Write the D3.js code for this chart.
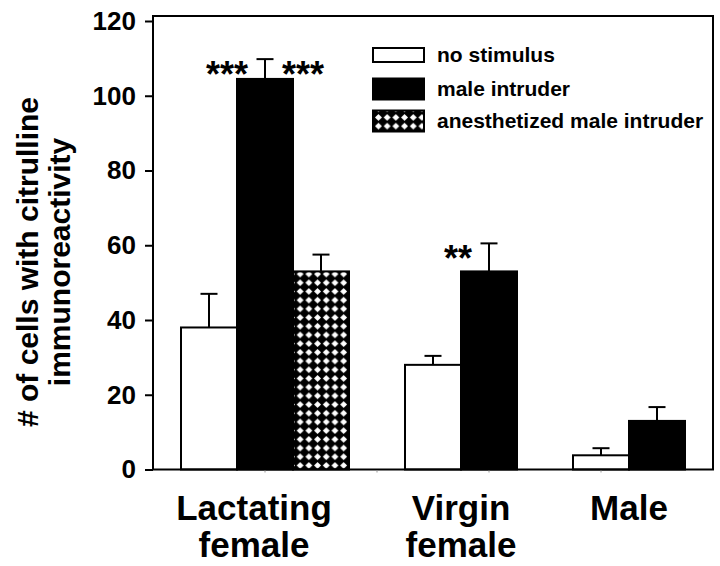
<!DOCTYPE html>
<html><head><meta charset="utf-8">
<script src="https://cdn.jsdelivr.net/npm/d3@7"></script>
<style>body{margin:0;background:#fff}text{font-family:"Liberation Sans",Arial,Helvetica,sans-serif}</style>
</head><body><svg id="c" width="720" height="566"></svg>
<script>
// ---- data ----
const groups = ["Lactating female", "Virgin female", "Male"];
const groupLines = [["Lactating", "female"], ["Virgin", "female"], ["Male"]];
const conditions = ["no stimulus", "male intruder", "anesthetized male intruder"];
const meanNoStim = [38, 28, 3.8];
const meanMaleIntruder = [104.5, 53, 13];
const meanAnesthetized = [53, null, null];
const semNoStim = [9, 2.4, 1.9];
const semMaleIntruder = [5.3, 7.5, 3.7];
const semAnesthetized = [4.5, null, null];
const sigMaleIntruder = ["***", "**", ""];   // stars shown beside male-intruder bars
const sigBothSides = [true, false, false];
const yTicks = [0, 20, 40, 60, 80, 100, 120];

// ---- build bar table ----
const means = [meanNoStim, meanMaleIntruder, meanAnesthetized];
const sems = [semNoStim, semMaleIntruder, semAnesthetized];
const bars = [];
const slots = [];
groups.forEach((g, gi) => {
  conditions.forEach((c, ci) => {
    const v = means[ci][gi];
    if (v == null) return;
    const key = gi + "|" + ci;
    slots.push(key);
    bars.push({g: gi, c: ci, key, v, e: sems[ci][gi]});
  });
  if (gi < groups.length - 1) slots.push("gap" + gi);
});

const svg = d3.select("#c");
const plot = {left: 153, right: 713, top: 16, bottom: 469.5};

const x = d3.scaleBand().domain(slots).range([plot.left, plot.right]).paddingInner(0).paddingOuter(0.5);
const y = d3.scaleLinear().domain([0, 120]).range([plot.bottom, 21]);

// hatch pattern (diamond checkerboard)
const P = 8.7;
const defs = svg.append("defs");
const pat = defs.append("pattern").attr("id", "hatch").attr("patternUnits", "userSpaceOnUse")
  .attr("width", P).attr("height", P).attr("x", 0).attr("y", 0);
pat.append("rect").attr("width", P).attr("height", P).attr("fill", "#000");
pat.append("path").attr("d", `M${P/2},0.9 L${P-0.9},${P/2} L${P/2},${P-0.9} L0.9,${P/2} Z`).attr("fill", "#fff");

const fills = ["#fff", "#000", "url(#hatch)"];

// bars
svg.append("g").selectAll("rect").data(bars).join("rect")
  .attr("x", d => x(d.key)).attr("width", x.bandwidth())
  .attr("y", d => y(d.v)).attr("height", d => y(0) - y(d.v))
  .attr("fill", d => fills[d.c]).attr("stroke", "#000").attr("stroke-width", 2);

// error bars (upper only)
const eb = svg.append("g").attr("stroke", "#000").attr("stroke-width", 2);
bars.forEach(d => {
  const cx = x(d.key) + x.bandwidth() / 2;
  eb.append("line").attr("x1", cx).attr("x2", cx).attr("y1", y(d.v)).attr("y2", y(d.v + d.e));
  eb.append("line").attr("x1", cx - 8.5).attr("x2", cx + 8.5).attr("y1", y(d.v + d.e)).attr("y2", y(d.v + d.e));
});

// significance stars
bars.filter(d => d.c === 1 && sigMaleIntruder[d.g]).forEach(d => {
  const cx = x(d.key) + x.bandwidth() / 2;
  const ty = y(d.v + d.e) + 28;
  svg.append("text").attr("x", cx - 17).attr("y", ty).attr("text-anchor", "end")
    .attr("font-size", 36).attr("font-weight", "bold").text(sigMaleIntruder[d.g]);
  if (sigBothSides[d.g]) {
    svg.append("text").attr("x", cx + 17).attr("y", ty).attr("text-anchor", "start")
      .attr("font-size", 36).attr("font-weight", "bold").text(sigMaleIntruder[d.g]);
  }
});

// frame
svg.append("rect").attr("x", plot.left).attr("y", plot.top)
  .attr("width", plot.right - plot.left).attr("height", plot.bottom - plot.top)
  .attr("fill", "none").attr("stroke", "#000").attr("stroke-width", 2);

// y axis
const ya = svg.append("g").attr("transform", `translate(${plot.left},0)`)
  .call(d3.axisLeft(y).tickValues(yTicks).tickSize(8).tickPadding(9));
ya.select(".domain").remove();
ya.selectAll(".tick line").attr("stroke-width", 2);
ya.selectAll(".tick text").attr("font-size", 26).attr("font-weight", "bold")
  .attr("font-family", "Liberation Sans, Arial, sans-serif").attr("fill", "#000");

// faint minor x ticks
svg.append("g").selectAll("line").data(slots.filter((s, i) => i % 2 === 1)).join("line")
  .attr("x1", d => x(d) + x.bandwidth() / 2).attr("x2", d => x(d) + x.bandwidth() / 2)
  .attr("y1", plot.bottom + 1).attr("y2", plot.bottom + 3)
  .attr("stroke", "#999").attr("stroke-width", 1);

// group labels
groupLines.forEach((lines, gi) => {
  const keys = bars.filter(b => b.g === gi).map(b => b.key);
  const cx = (x(keys[0]) + x(keys[keys.length - 1]) + x.bandwidth()) / 2;
  const t = svg.append("text").attr("text-anchor", "middle").attr("font-size", 35)
    .attr("font-weight", "bold").attr("y", 520);
  lines.forEach((l, li) => t.append("tspan").attr("x", cx - (gi === 0 ? 11 : 0)).attr("dy", li ? 37 : 0).text(l));
});

// y axis title
const yt = svg.append("text").attr("transform", "translate(38,262) rotate(-90)")
  .attr("text-anchor", "middle").attr("font-size", 30).attr("font-weight", "bold");
yt.append("tspan").attr("x", 0).attr("y", 0).text("# of cells with citrulline");
yt.append("tspan").attr("x", 0).attr("y", 32).text("immunoreactivity");

// legend
const legY = [55, 89, 121];
const legH = [14, 21, 21];
const leg = svg.append("g");
conditions.forEach((c, i) => {
  leg.append("rect").attr("x", 373).attr("y", legY[i] - legH[i] / 2).attr("width", 51).attr("height", legH[i])
    .attr("fill", fills[i]).attr("stroke", "#000").attr("stroke-width", 2);
  leg.append("text").attr("x", 437).attr("y", legY[i] + 7).attr("font-size", 21)
    .attr("font-weight", "bold").text(c);
});
</script></body></html>
